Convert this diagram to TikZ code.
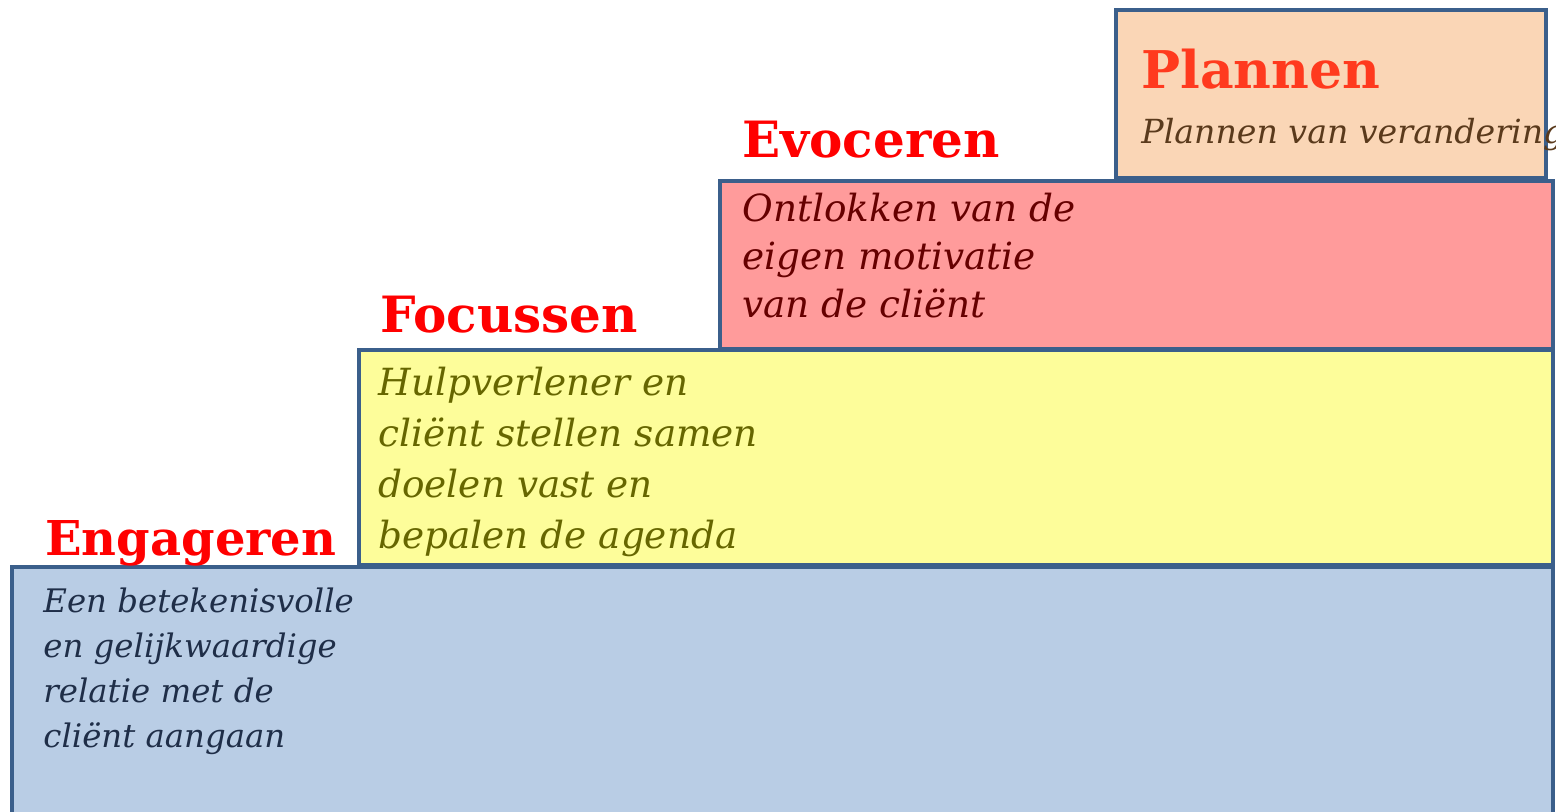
\documentclass[tikz,border=0pt]{standalone}
\usepackage{fontspec}
\setmainfont{DejaVu Serif}
\definecolor{rand}{HTML}{3B5F8B}
\definecolor{blauw}{HTML}{B9CDE5}
\definecolor{geel}{HTML}{FDFD9A}
\definecolor{roze}{HTML}{FF9B9B}
\definecolor{perzik}{HTML}{FAD6B6}
\definecolor{titelrood}{HTML}{FF0000}
\definecolor{plannenrood}{HTML}{FF3A1E}
\definecolor{blauwtekst}{HTML}{1F2E48}
\definecolor{geeltekst}{HTML}{666600}
\definecolor{rozetekst}{HTML}{660000}
\definecolor{perziktekst}{HTML}{5A3A1C}

\begin{document}
\begin{tikzpicture}[x=0.5pt,y=-0.5pt,
    stap/.style={draw=rand,line width=2pt},
    titel/.style={anchor=base west,inner sep=0pt,text=titelrood,font=\bfseries\fontsize{25}{30}\selectfont},
    uitleg/.style={anchor=base west,inner sep=0pt,align=left}]
        \useasboundingbox (0,0) rectangle (1556,811);
        \begin{scope}
        \clip (0,0) rectangle (1556,811);
        % de vier treden
        \draw[stap,fill=blauw] (12,567) rectangle (1553,830);
        \draw[stap,fill=geel] (359,350) rectangle (1553,565);
        \draw[stap,fill=roze] (720,181) rectangle (1553,349);
        \draw[stap,fill=perzik] (1116,10) rectangle (1546,178);
        \end{scope}
        % koppen
        \node[titel,font=\bfseries\fontsize{24}{30}\selectfont] (engageren) at (45,555) {Engageren};
        \node[titel] (focussen) at (380,332) {Focussen};
        \node[titel] (evoceren) at (742,157) {Evoceren};
        \node[titel,text=plannenrood,font=\bfseries\fontsize{26}{32}\selectfont] (plannen) at (1141,88) {Plannen};
        % uitleg per trede (base = laatste regel)
        \node[uitleg,text=blauwtekst,font=\itshape\fontsize{16.2}{22.5}\selectfont] (engtekst) at (43,747)
            {Een betekenisvolle\\en gelijkwaardige\\relatie met de\\cliënt aangaan};
        \node[uitleg,text=geeltekst,font=\itshape\fontsize{18.7}{25.5}\selectfont] (foctekst) at (378,548)
            {Hulpverlener en\\cliënt stellen samen\\doelen vast en\\bepalen de agenda};
        \node[uitleg,text=rozetekst,font=\itshape\fontsize{18.7}{24}\selectfont] (evotekst) at (742,317)
            {Ontlokken van de\\eigen motivatie\\van de cliënt};
        \node[uitleg,text=perziktekst,font=\itshape\fontsize{16.6}{20}\selectfont] (platekst) at (1141,143)
            {Plannen van verandering};
\end{tikzpicture}
\end{document}
